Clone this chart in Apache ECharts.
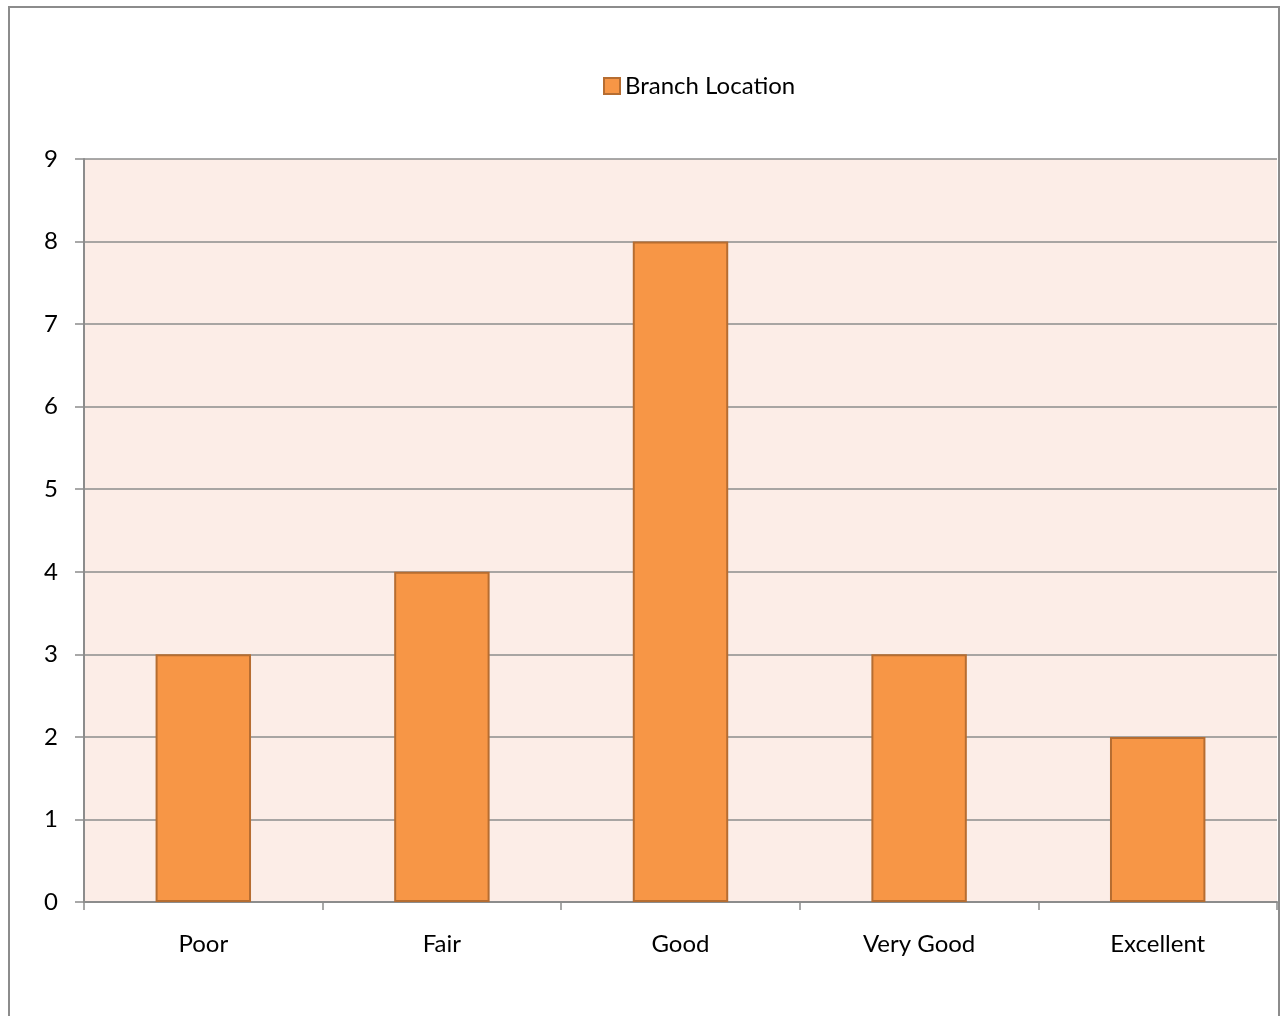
<!DOCTYPE html>
<html lang="en">
<head>
    <meta charset="UTF-8">
    <title>Branch Location</title>
    <script src="https://cdn.jsdelivr.net/npm/echarts@6/dist/echarts.min.js"></script>
    <style>
        html, body { margin: 0; padding: 0; background: #fff; }
        #chart { width: 1285px; height: 1016px; }
    </style>
</head>
<body>
<div id="chart"></div>
<script>
// data
var categories = ['Poor', 'Fair', 'Good', 'Very Good', 'Excellent'];
var branchLocation = [3, 4, 8, 3, 2];
var seriesName = 'Branch Location';

var myChart = echarts.init(document.getElementById('chart'));
var axisGray = '#8c8c8c';
var font = 'Lato, "Open Sans", sans-serif';

var option = {
    animation: false,
    backgroundColor: '#ffffff',
    // outer chart border
    graphic: [{
        type: 'rect',
        shape: { x: 9, y: 7, width: 1270, height: 1030 },
        style: { fill: 'none', stroke: axisGray, lineWidth: 2 },
        silent: true,
        z: -1
    }],
    legend: {
        data: [{ name: seriesName, icon: 'rect' }],
        top: 69,
        left: 598,
        itemWidth: 16,
        itemHeight: 16,
        itemGap: 6,
        textStyle: { fontSize: 24, color: '#000', fontFamily: font }
    },
    grid: {
        left: 84,
        right: 8,
        top: 159,
        bottom: 114,
        show: true,
        backgroundColor: '#fcede7',
        borderWidth: 0
    },
    xAxis: {
        type: 'category',
        data: categories,
        axisLine: { show: true, lineStyle: { color: axisGray, width: 2 } },
        axisTick: { show: true, length: 8, interval: 0, lineStyle: { color: axisGray, width: 1.5 } },
        axisLabel: { margin: 30, fontSize: 24, color: '#000', fontFamily: font, interval: 0 }
    },
    yAxis: {
        type: 'value',
        min: 0,
        max: 9,
        interval: 1,
        axisLine: { show: true, lineStyle: { color: axisGray, width: 2 } },
        axisTick: { show: true, length: 9, lineStyle: { color: axisGray, width: 1.5 } },
        axisLabel: { margin: 26, fontSize: 24, color: '#000', fontFamily: font },
        splitLine: { show: true, lineStyle: { color: axisGray, width: 1.5 } }
    },
    series: [{
        name: seriesName,
        type: 'bar',
        data: branchLocation,
        barWidth: '40%',
        itemStyle: {
            color: '#f79646',
            borderColor: '#b66d31',
            borderWidth: 2
        }
    }]
};
myChart.setOption(option);
</script>
</body>
</html>
